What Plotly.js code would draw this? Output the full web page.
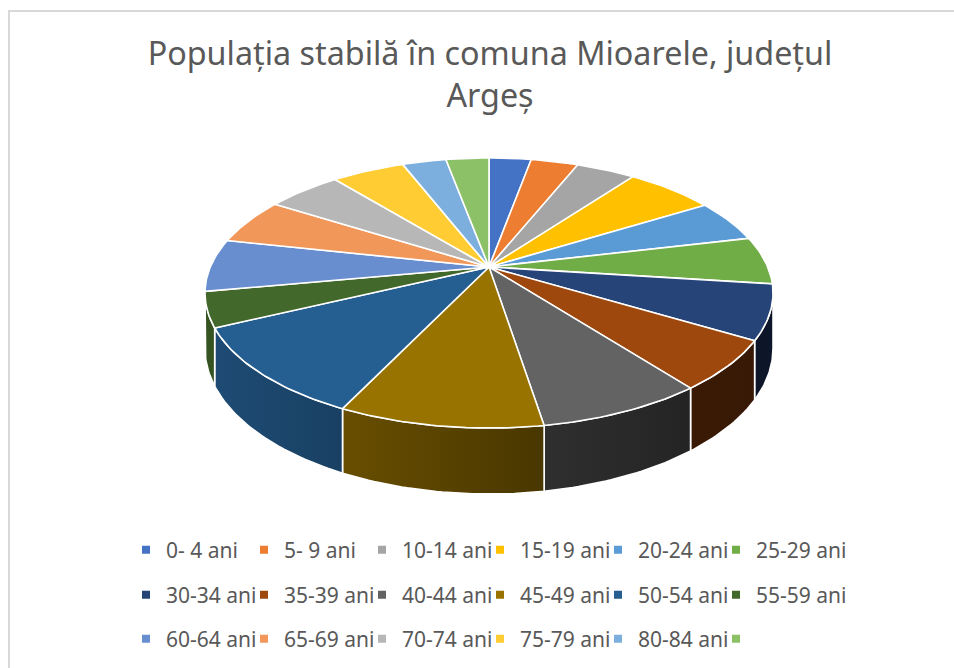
<!DOCTYPE html>
<html><head><meta charset="utf-8">
<script src="https://cdn.plot.ly/plotly-3.0.1.min.js"></script>
<style>html,body{margin:0;padding:0;background:#fff}#chart{width:954px;height:668px}</style>
</head><body><div id="chart"></div>
<script>
// ---- data ----
const categories = ['0- 4 ani','5- 9 ani','10-14 ani','15-19 ani','20-24 ani','25-29 ani',
  '30-34 ani','35-39 ani','40-44 ani','45-49 ani','50-54 ani','55-59 ani',
  '60-64 ani','65-69 ani','70-74 ani','75-79 ani','80-84 ani',''];
const values = [49,55,69,103,86,97,111,101,135,165,183,71,107,94,87,85,51,50];
const colors = ['#4472C4','#ED7D31','#A5A5A5','#FFC000','#5B9BD5','#70AD47',
  '#264478','#9E480E','#636363','#997300','#255E91','#43682B',
  '#698ED0','#F1975A','#B7B7B7','#FFCD33','#7CAFDD','#8CC168'];
const chartTitle = 'Populația stabilă în comuna Mioarele, județul<br>Argeș';

// ---- geometry of the tilted (perspective) pie ----
const W = 954, H = 668;
const CX = 489, CY = 267;          // pie centre in page px
const RX = 278.7, RY = 130, K = 0.1926, DEPTH = 53.3;
const deg = Math.PI / 180;
function proj(t) { const d = 1 + K * Math.cos(t); return [RX * Math.sin(t) / d, RY * Math.cos(t) / d]; }
function wallDepth(t) { return DEPTH / (1 + K * Math.cos(t)); }
const visA = Math.acos(-K), visB = 2 * Math.PI - Math.acos(-K);

const shadeTable = [[101,0.33],[140,0.36],[170,0.47],[205,0.68],[245,0.8],[260,0.8]];
function shadeF(t) {
  const a = t / deg;
  if (a <= shadeTable[0][0]) return shadeTable[0][1];
  for (let i = 1; i < shadeTable.length; i++) {
    if (a <= shadeTable[i][0]) {
      const [a0, f0] = shadeTable[i-1], [a1, f1] = shadeTable[i];
      return f0 + (f1 - f0) * (a - a0) / (a1 - a0);
    }
  }
  return shadeTable[shadeTable.length-1][1];
}
function shade(hex, f) {
  const r = parseInt(hex.slice(1,3),16), g = parseInt(hex.slice(3,5),16), b = parseInt(hex.slice(5,7),16);
  return 'rgb(' + Math.round(r*f) + ',' + Math.round(g*f) + ',' + Math.round(b*f) + ')';
}

// ---- legend grid (6 per row) ----
const LEG_X0 = 126, LEG_DX = 118, LEG_ROWS = [550, 595, 639];
const legFont = {family:'Noto Sans, sans-serif', size:21, color:'#595959'};

const total = values.reduce((s, v) => s + v, 0);
const wallTraces = [], topTraces = [], legendTraces = [];
const layoutLegends = {};
let acc = 0;
values.forEach((v, i) => {
  const t1 = acc / total * 2 * Math.PI;
  acc += v;
  const t2 = acc / total * 2 * Math.PI;
  // top face
  const n = Math.max(3, Math.ceil((t2 - t1) / deg));
  const xs = [0], ys = [0];
  for (let j = 0; j <= n; j++) { const p = proj(t1 + (t2 - t1) * j / n); xs.push(p[0]); ys.push(p[1]); }
  xs.push(0); ys.push(0);
  topTraces.push({type:'scatter', mode:'lines', x:xs, y:ys, fill:'toself', fillcolor:colors[i],
    line:{color:'#ffffff', width:1.6}, hoverinfo:'skip', showlegend:false});
  // side wall (front, visible part only)
  const a = Math.max(t1, visA), b = Math.min(t2, visB);
  if (b > a) {
    const m = Math.max(2, Math.ceil((b - a) / deg));
    const wx = [], wy = [], bx = [], by = [];
    for (let j = 0; j <= m; j++) {
      const t = a + (b - a) * j / m, p = proj(t);
      wx.push(p[0]); wy.push(p[1]);
      bx.push(p[0]); by.push(p[1] - wallDepth(t));
    }
    const X = wx.concat(bx.reverse()), Y = wy.concat(by.reverse());
    X.push(X[0]); Y.push(Y[0]);
    const cLeft = shade(colors[i], shadeF(b)), cRight = shade(colors[i], shadeF(a));
    wallTraces.push({type:'scatter', mode:'lines', x:X, y:Y, fill:'toself', fillcolor:cLeft,
      fillgradient:{type:'horizontal', colorscale:[[0, cLeft],[1, cRight]]},
      line:{color:'#ffffff', width:1.6}, hoverinfo:'skip', showlegend:false});
  }
  // legend entry: one small legend per entry, laid out on a 6-column grid
  const row = Math.floor(i / 6), col = i % 6;
  const legId = i === 0 ? 'legend' : 'legend' + (i + 1);
  legendTraces.push({type:'scatter', mode:'markers', x:[null], y:[null], name:categories[i],
    marker:{symbol:'square', size:8, color:colors[i]}, legend:legId, hoverinfo:'skip', showlegend:true});
  layoutLegends[legId] = {orientation:'v', x:(LEG_X0 + col * LEG_DX) / W, xanchor:'left',
    y:1 - LEG_ROWS[row] / H, yanchor:'middle', font:legFont, bgcolor:'rgba(0,0,0,0)',
    borderwidth:0, itemclick:false, itemdoubleclick:false};
});

const layout = Object.assign({
  width: W, height: H,
  margin:{l:0, r:0, t:0, b:0, pad:0, autoexpand:false},
  paper_bgcolor:'#ffffff', plot_bgcolor:'#ffffff',
  title:{text:chartTitle, x:490/W, xanchor:'center', xref:'paper', y:1 - 65/H, yref:'container', yanchor:'top',
    font:{family:'Noto Sans, sans-serif', size:32.3, color:'#595959'}},
  xaxis:{range:[-CX, W - CX], visible:false, fixedrange:true},
  yaxis:{range:[-(H - CY), CY], visible:false, fixedrange:true},
  shapes:[{type:'rect', xref:'paper', yref:'paper', x0:9/W, x1:1.02, y0:-0.02, y1:1 - 11/H,
    line:{color:'#d9d9d9', width:2}, fillcolor:'rgba(0,0,0,0)', layer:'below'}],
  showlegend:true
}, layoutLegends);

Plotly.newPlot('chart', wallTraces.concat(topTraces, legendTraces), layout, {displayModeBar:false, staticPlot:true});
</script></body></html>
